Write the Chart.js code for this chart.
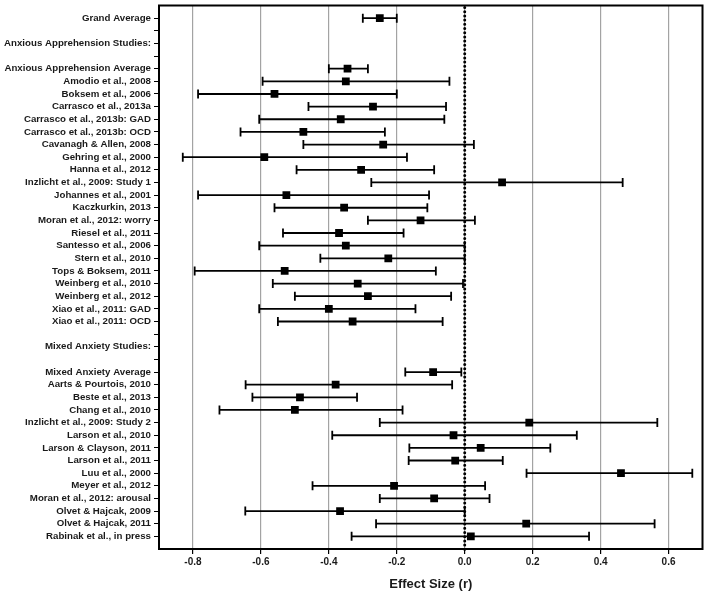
<!DOCTYPE html>
<html>
<head>
<meta charset="utf-8">
<script src="https://cdn.jsdelivr.net/npm/chart.js@4/dist/chart.umd.min.js"></script>
<style>
  html, body { margin: 0; padding: 0; background: #fff; }
  canvas { display: block; }
</style>
</head>
<body>
<canvas id="forest" width="708" height="598"></canvas>
<script>
// rows, top to bottom ('' = blank spacer row)
const rowLabels = [
  'Grand Average', '', 'Anxious Apprehension Studies:', '',
  'Anxious Apprehension Average', 'Amodio et al., 2008', 'Boksem et al., 2006',
  'Carrasco et al., 2013a', 'Carrasco et al., 2013b: GAD', 'Carrasco et al., 2013b: OCD',
  'Cavanagh & Allen, 2008', 'Gehring et al., 2000', 'Hanna et al., 2012',
  'Inzlicht et al., 2009: Study 1', 'Johannes et al., 2001', 'Kaczkurkin, 2013',
  'Moran et al., 2012: worry', 'Riesel et al., 2011', 'Santesso et al., 2006',
  'Stern et al., 2010', 'Tops & Boksem, 2011', 'Weinberg et al., 2010',
  'Weinberg et al., 2012', 'Xiao et al., 2011: GAD', 'Xiao et al., 2011: OCD',
  '', 'Mixed Anxiety Studies:', '',
  'Mixed Anxiety Average', 'Aarts & Pourtois, 2010', 'Beste et al., 2013',
  'Chang et al., 2010', 'Inzlicht et al., 2009: Study 2', 'Larson et al., 2010',
  'Larson & Clayson, 2011', 'Larson et al., 2011', 'Luu et al., 2000',
  'Meyer et al., 2012', 'Moran et al., 2012: arousal', 'Olvet & Hajcak, 2009',
  'Olvet & Hajcak, 2011', 'Rabinak et al., in press'
];

// effect size (r) and its confidence limits, null for rows without a study
const effectSize = [
  -0.25, null, null, null,
  -0.345, -0.35, -0.56, -0.27, -0.365, -0.475, -0.24, -0.59, -0.305, 0.11,
  -0.525, -0.355, -0.13, -0.37, -0.35, -0.225, -0.53, -0.315, -0.285, -0.40, -0.33,
  null, null, null,
  -0.093, -0.38, -0.485, -0.50, 0.19, -0.033, 0.047, -0.028, 0.46, -0.208,
  -0.09, -0.367, 0.181, 0.018
];
const lowerCI = [
  -0.30, null, null, null,
  -0.40, -0.595, -0.785, -0.46, -0.605, -0.66, -0.475, -0.83, -0.495, -0.275,
  -0.785, -0.56, -0.285, -0.535, -0.605, -0.425, -0.795, -0.565, -0.50, -0.605, -0.55,
  null, null, null,
  -0.175, -0.645, -0.625, -0.722, -0.25, -0.39, -0.163, -0.165, 0.182, -0.448,
  -0.25, -0.646, -0.261, -0.333
];
const upperCI = [
  -0.20, null, null, null,
  -0.285, -0.045, -0.20, -0.055, -0.06, -0.235, 0.027, -0.17, -0.09, 0.465,
  -0.105, -0.11, 0.03, -0.18, 0.0, 0.0, -0.085, -0.005, -0.04, -0.145, -0.065,
  null, null, null,
  -0.01, -0.037, -0.317, -0.183, 0.567, 0.33, 0.252, 0.112, 0.67, 0.06,
  0.073, 0.0, 0.559, 0.366
];

const xTicks = [-0.8, -0.6, -0.4, -0.2, 0.0, 0.2, 0.4, 0.6];

const font = "'Liberation Sans', Arial, sans-serif";

const points = [];
effectSize.forEach((v, i) => {
  if (v !== null) points.push({ x: v, y: i, lo: lowerCI[i], hi: upperCI[i] });
});

// zero line, CI whiskers and the plot frame
const forestPlugin = {
  id: 'forest',
  beforeDatasetsDraw(chart) {
    const { ctx, chartArea: a, scales: { x, y } } = chart;
    ctx.save();
    // dotted line at r = 0
    const x0 = x.getPixelForValue(0);
    ctx.strokeStyle = '#000';
    ctx.lineWidth = 3;
    ctx.lineCap = 'round';
    ctx.setLineDash([0, 4.2]);
    ctx.beginPath();
    ctx.moveTo(x0, a.top + 2);
    ctx.lineTo(x0, a.bottom + 4);
    ctx.stroke();
    ctx.setLineDash([]);
    ctx.lineCap = 'butt';
    // error bars
    ctx.lineWidth = 1.8;
    points.forEach(p => {
      const py = y.getPixelForValue(p.y);
      const xl = x.getPixelForValue(p.lo);
      const xh = x.getPixelForValue(p.hi);
      ctx.beginPath();
      ctx.moveTo(xl, py);
      ctx.lineTo(xh, py);
      ctx.moveTo(xl, py - 4.5);
      ctx.lineTo(xl, py + 4.5);
      ctx.moveTo(xh, py - 4.5);
      ctx.lineTo(xh, py + 4.5);
      ctx.stroke();
    });
    ctx.restore();
  },
  afterDatasetsDraw(chart) {
    const { ctx, chartArea: a } = chart;
    ctx.save();
    ctx.strokeStyle = '#000';
    ctx.lineWidth = 2;
    ctx.strokeRect(a.left, a.top, a.right - a.left, a.bottom - a.top);
    ctx.restore();
  }
};

new Chart(document.getElementById('forest'), {
  type: 'scatter',
  data: {
    datasets: [{
      data: points,
      pointStyle: 'rect',
      pointRadius: 5.5,
      pointHoverRadius: 5.5,
      backgroundColor: '#000',
      borderColor: '#000',
      borderWidth: 0
    }]
  },
  options: {
    responsive: false,
    animation: false,
    devicePixelRatio: 1,
    layout: { padding: { top: 4, right: 4, bottom: 4, left: 0 } },
    plugins: { legend: { display: false }, tooltip: { enabled: false } },
    scales: {
      x: {
        type: 'linear',
        min: -0.9,
        max: 0.7,
        afterBuildTicks: s => { s.ticks = xTicks.map(v => ({ value: v })); },
        afterFit: s => { s.height = 45; },
        grid: { color: '#a3a3a3', lineWidth: 1.2, tickLength: 5, tickColor: '#000' },
        border: { display: false },
        ticks: {
          color: '#1a1a1a',
          padding: 2,
          font: { family: font, size: 10, weight: 'bold' },
          callback: v => Number(v).toFixed(1)
        },
        title: {
          display: true,
          text: 'Effect Size (r)',
          color: '#1a1a1a',
          font: { family: font, size: 13, weight: 'bold' },
          padding: { top: 0, bottom: 2 }
        }
      },
      y: {
        type: 'linear',
        reverse: true,
        min: -1,
        max: rowLabels.length,
        afterBuildTicks: s => { s.ticks = rowLabels.map((_, i) => ({ value: i })); },
        afterFit: s => { s.width = 159; s.paddingTop = 0; s.paddingBottom = 0; },
        grid: { drawOnChartArea: false, tickLength: 5, tickColor: '#000' },
        border: { display: false },
        ticks: {
          color: '#1a1a1a',
          padding: 3,
          autoSkip: false,
          font: { family: font, size: 9.7, weight: 'bold' },
          callback: v => rowLabels[v] || ''
        }
      }
    }
  },
  plugins: [forestPlugin]
});
</script>
</body>
</html>
